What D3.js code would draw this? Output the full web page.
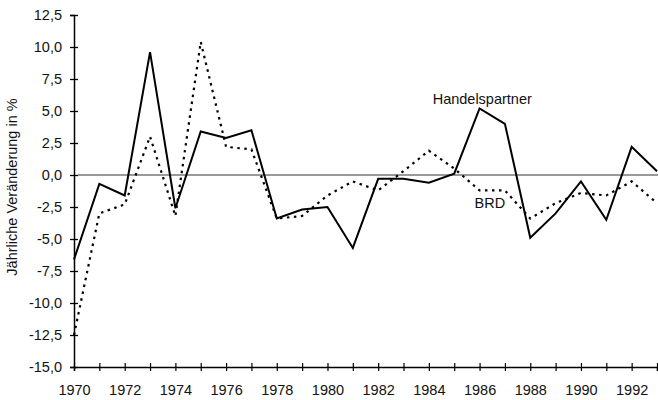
<!DOCTYPE html>
<html>
<head>
<meta charset="utf-8">
<script src="https://d3js.org/d3.v7.min.js"></script>
<style>
  body { margin: 0; background: #fff; }
  svg { display: block; font-family: Arial, "Liberation Sans", sans-serif; }
  .tick text { font-size: 14px; fill: #111; }
</style>
</head>
<body>
<svg width="658" height="400"></svg>
<script>
// Jahre 1970..1993
var years = [1970,1971,1972,1973,1974,1975,1976,1977,1978,1979,1980,1981,
             1982,1983,1984,1985,1986,1987,1988,1989,1990,1991,1992,1993];
// Handelspartner (durchgezogen)
var handelspartner = [-6.6,-0.7,-1.6,9.6,-2.6,3.4,2.9,3.5,-3.4,-2.7,-2.5,-5.7,
                      -0.3,-0.3,-0.6,0.1,5.2,4.0,-4.9,-3.0,-0.5,-3.5,2.2,0.3];
// BRD (gepunktet)
var brd = [-12.5,-3.0,-2.3,3.0,-3.2,10.4,2.2,2.0,-3.4,-3.2,-1.6,-0.5,
           -1.2,0.3,1.9,0.5,-1.2,-1.2,-3.4,-2.2,-1.4,-1.6,-0.5,-2.2];
var yTicks = [12.5,10,7.5,5,2.5,0,-2.5,-5,-7.5,-10,-12.5,-15];
var yLabel = "Jährliche Veränderung in %";

var svg = d3.select("svg");

var x = d3.scaleLinear().domain([1970, 1993]).range([74, 657]);
var y = d3.scaleLinear().domain([-15, 12.5]).range([367, 15]);

var de = d3.formatLocale({decimal: ",", thousands: ".", grouping: [3], currency: ["", " €"], minus: "-"});
var fmt = de.format(".1f");

// Nulllinie
svg.append("line")
    .attr("x1", x(1970) + 4).attr("x2", 658)
    .attr("y1", y(0)).attr("y2", y(0))
    .attr("stroke", "#777").attr("stroke-width", 1.5);

// y-Achse
var yAxis = svg.append("g")
    .attr("transform", "translate(" + x(1970) + ",0)")
    .call(d3.axisLeft(y).tickValues(yTicks).tickSize(4).tickPadding(8).tickFormat(fmt));
yAxis.select(".domain").attr("stroke", "#000").attr("stroke-width", 1.5);
yAxis.selectAll(".tick line").attr("stroke-width", 1.3);
yAxis.selectAll(".tick").append("line").attr("x2", 4).attr("stroke", "#000").attr("stroke-width", 1.3);
yAxis.selectAll(".tick text").style("font-size", "14.5px").attr("font-family", null);

// x-Achse
var xAxis = svg.append("g")
    .attr("transform", "translate(0," + y(-15) + ")")
    .call(d3.axisBottom(x).tickValues(years).tickSize(4).tickPadding(14)
      .tickFormat(function(d) { return d % 2 === 0 ? d : ""; }));
xAxis.select(".domain").attr("stroke", "#000").attr("stroke-width", 1.5);
xAxis.selectAll(".tick line").attr("stroke-width", 1.2);
xAxis.selectAll(".tick").append("line").attr("y2", -4).attr("stroke", "#000").attr("stroke-width", 1.2);
xAxis.selectAll(".tick text").style("font-size", "14.5px").attr("font-family", null);

// Achsentitel
svg.append("text")
    .attr("transform", "translate(17," + 187 + ") rotate(-90)")
    .attr("text-anchor", "middle")
    .style("font-size", "14.5px")
    .attr("fill", "#111")
    .text(yLabel);

var line = d3.line()
    .x(function(d, i) { return x(years[i]); })
    .y(function(d) { return y(d); });

svg.append("path")
    .datum(brd)
    .attr("d", line)
    .attr("fill", "none")
    .attr("stroke", "#000")
    .attr("stroke-width", 2.2)
    .attr("stroke-dasharray", "2.5,4.5");

svg.append("path")
    .datum(handelspartner)
    .attr("d", line)
    .attr("fill", "none")
    .attr("stroke", "#000")
    .attr("stroke-width", 2)
    .attr("stroke-linejoin", "miter");

// Beschriftung der Linien
svg.append("text")
    .attr("x", x(1984.15)).attr("y", y(5.55))
    .style("font-size", "14.5px").attr("fill", "#111")
    .text("Handelspartner");
svg.append("text")
    .attr("x", x(1985.8)).attr("y", y(-2.55))
    .style("font-size", "14.5px").attr("fill", "#111")
    .text("BRD");
</script>
</body>
</html>
